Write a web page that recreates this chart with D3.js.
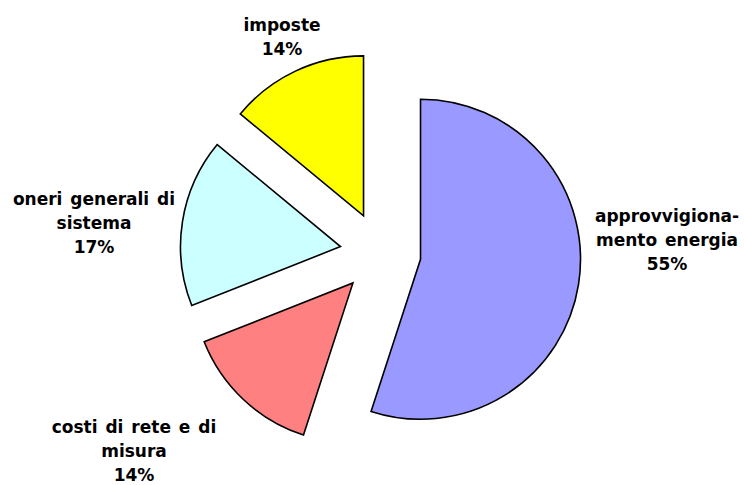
<!DOCTYPE html>
<html>
<head>
<meta charset="utf-8">
<script src="https://cdn.jsdelivr.net/npm/d3@7"></script>
<style>
  html, body { margin: 0; padding: 0; background: #fff; }
  svg { display: block; }
</style>
</head>
<body>
<div id="chart"></div>
<script>
// data
var categories = ["approvvigionamento energia", "costi di rete e di misura", "oneri generali di sistema", "imposte"];
var shares = [55, 14, 17, 14];
var labelLines = [
    ["approvvigiona-", "mento energia"],
    ["costi di rete e di", "misura"],
    ["oneri generali di", "sistema"],
    ["imposte"]
];
var colors = ["#9999FF", "#FF8080", "#CCFFFF", "#FFFF00"];

// layout
var width = 744, height = 485;
var cx = 381, cy = 253, radius = 160;
var explode = [40, 41, 41, 41];
// label anchor: centre x, first baseline y
var labelAt = [[667, 222], [134, 433], [94, 205], [282, 31]];
var lineStep = 24;

var slices = categories.map(function (c, i) {
    return { name: c, value: shares[i], lines: labelLines[i].concat([shares[i] + "%"]), i: i };
});

var pie = d3.pie()
    .sort(null)
    .value(function (d) { return d.value; })
    .startAngle(0)
    .endAngle(2 * Math.PI);

var arc = d3.arc()
    .innerRadius(0)
    .outerRadius(radius);

var svg = d3.select("#chart").append("svg")
    .attr("width", width)
    .attr("height", height)
    .style("font", "bold 17px 'DejaVu Sans', Verdana, sans-serif")
    .style("word-spacing", "2px");

var g = svg.append("g")
    .attr("transform", "translate(" + cx + "," + cy + ")");

g.selectAll("path")
    .data(pie(slices))
    .join("path")
    .attr("transform", function (d) {
        var a = (d.startAngle + d.endAngle) / 2;
        var k = explode[d.data.i];
        return "translate(" + (Math.sin(a) * k) + "," + (-Math.cos(a) * k) + ")";
    })
    .attr("d", arc)
    .attr("fill", function (d) { return colors[d.data.i]; })
    .attr("stroke", "#000")
    .attr("stroke-width", 1.6)
    .attr("stroke-linejoin", "miter");

var labels = svg.append("g")
    .selectAll("text")
    .data(slices)
    .join("text")
    .attr("text-anchor", "middle")
    .attr("fill", "#000");

labels.selectAll("tspan")
    .data(function (d) { return d.lines.map(function (t) { return { t: t, i: d.i }; }); })
    .join("tspan")
    .attr("x", function (d) { return labelAt[d.i][0]; })
    .attr("y", function (d, j) { return labelAt[d.i][1] + j * lineStep; })
    .text(function (d) { return d.t; });
</script>
</body>
</html>
